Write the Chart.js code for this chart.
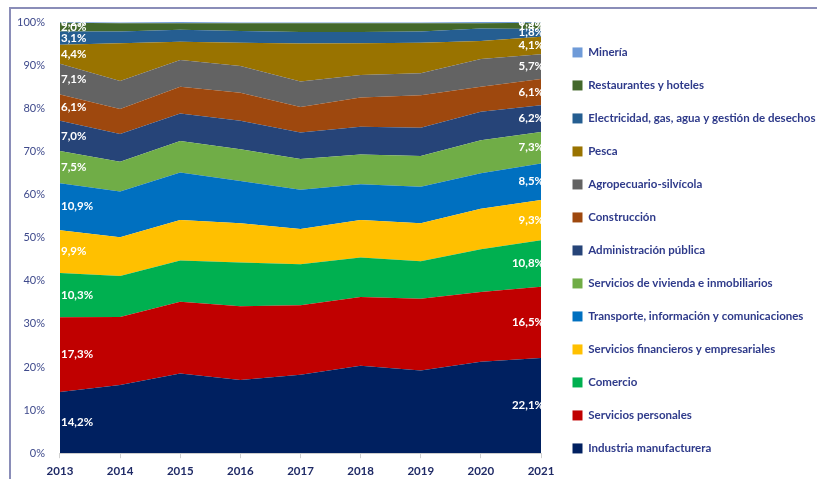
<!DOCTYPE html>
<html>
<head>
<meta charset="utf-8">
<script src="https://cdn.jsdelivr.net/npm/chart.js@4"></script>
<style>
  html, body { margin: 0; padding: 0; background: #fff; overflow: hidden; }
  #frame { position: absolute; left: 9px; top: 7px; width: 900px; height: 600px; border: 2px solid #8a8db8; }
  #wrap { position: absolute; left: 0; top: 0; width: 817px; height: 479px; }
</style>
</head>
<body>
<div id="frame"></div>
<div id="wrap"><canvas id="areachart"></canvas></div>
<script>
var years = ['2013', '2014', '2015', '2016', '2017', '2018', '2019', '2020', '2021'];

var industria      = [14.2, 15.8, 18.5, 17.0, 18.2, 20.3, 19.2, 21.2, 22.1];
var personales     = [17.3, 15.8, 16.6, 17.1, 16.1, 15.9, 16.6, 16.2, 16.5];
var comercio       = [10.3, 9.5, 9.6, 10.1, 9.5, 9.2, 8.7, 9.9, 10.8];
var financieros    = [9.9, 9.0, 9.4, 9.1, 8.2, 8.7, 8.8, 9.4, 9.3];
var transporte     = [10.9, 10.6, 11.0, 9.8, 9.1, 8.3, 8.5, 8.2, 8.5];
var vivienda       = [7.5, 6.9, 7.3, 7.4, 7.1, 6.9, 7.1, 7.7, 7.3];
var administracion = [7.0, 6.4, 6.4, 6.6, 6.2, 6.4, 6.6, 6.6, 6.2];
var construccion   = [6.1, 5.8, 6.2, 6.5, 5.9, 6.8, 7.5, 5.8, 6.1];
var agropecuario   = [7.1, 6.5, 6.2, 6.2, 5.9, 5.2, 5.1, 6.4, 5.7];
var pesca          = [4.4, 8.8, 4.2, 5.4, 8.8, 7.4, 7.1, 4.2, 4.1];
var electricidad   = [3.1, 2.7, 2.8, 2.7, 2.7, 2.6, 2.6, 2.9, 1.8];
var restaurantes   = [2.0, 1.9, 1.5, 1.8, 2.0, 2.0, 1.9, 1.2, 1.4];
var mineria        = [0.2, 0.2, 0.3, 0.2, 0.2, 0.2, 0.2, 0.3, 0.3];

var yTicks = [0, 10, 20, 30, 40, 50, 60, 70, 80, 90, 100];

// bottom of the stack first
var series = [
    ['Industria manufacturera', industria, '#002060'],
    ['Servicios personales', personales, '#c00000'],
    ['Comercio', comercio, '#00b050'],
    ['Servicios financieros y empresariales', financieros, '#ffc000'],
    ['Transporte, información y comunicaciones', transporte, '#0070c0'],
    ['Servicios de vivienda e inmobiliarios', vivienda, '#70ad47'],
    ['Administración pública', administracion, '#264478'],
    ['Construcción', construccion, '#9e480e'],
    ['Agropecuario-silvícola', agropecuario, '#636363'],
    ['Pesca', pesca, '#997300'],
    ['Electricidad, gas, agua y gestión de desechos', electricidad, '#255e91'],
    ['Restaurantes y hoteles', restaurantes, '#43682b'],
    ['Minería', mineria, '#6f9bd8']
];

var datasets = series.map(function (s, i) {
    return {
        label: s[0],
        data: s[1],
        backgroundColor: s[2],
        borderColor: s[2],
        borderWidth: 0,
        pointRadius: 0,
        tension: 0,
        fill: i === 0 ? 'origin' : '-1'
    };
});

function pct(v) {
    return v.toFixed(1).replace('.', ',') + '%';
}

// white value labels at the first and last year, centred in each band
var endLabels = {
    id: 'endLabels',
    afterDatasetsDraw: function (chart) {
        var ctx = chart.ctx;
        var xs = chart.scales.x, ys = chart.scales.y;
        var last = years.length - 1;
        ctx.save();
        ctx.font = 'bold 11.5px Lato';
        ctx.fillStyle = '#ffffff';
        ctx.textBaseline = 'middle';
        [0, last].forEach(function (idx) {
            var base = 0;
            series.forEach(function (s) {
                var v = s[1][idx];
                var y = ys.getPixelForValue(base + v / 2);
                base += v;
                if (idx === 0) {
                    ctx.textAlign = 'left';
                    ctx.fillText(pct(v), xs.getPixelForValue(0) + 1, y);
                } else {
                    ctx.textAlign = 'right';
                    ctx.fillText(pct(v), xs.getPixelForValue(last) + 3, y);
                }
            });
        });
        ctx.restore();
    }
};

var areactx = document.getElementById('areachart').getContext('2d');
var areachart = new Chart(areactx, {
    type: 'line',
    data: {
        labels: years,
        datasets: datasets
    },
    plugins: [endLabels],
    options: {
        responsive: true,
        maintainAspectRatio: false,
        animation: false,
        layout: {
            padding: { left: 10, top: 22, right: 0, bottom: -5 }
        },
        plugins: {
            tooltip: { enabled: false },
            legend: {
                position: 'right',
                align: 'start',
                reverse: true,
                maxWidth: 266,
                title: { display: true, text: '', padding: { top: 2, bottom: 0 }, font: { size: 1 } },
                labels: {
                    boxWidth: 10,
                    boxHeight: 10,
                    padding: 21.5,
                    color: '#2e3a8a',
                    font: { family: 'Lato', size: 11.5, weight: 'bold' }
                }
            }
        },
        scales: {
            x: {
                offset: false,
                grid: { display: true, drawOnChartArea: false, tickLength: 5, color: '#d0d0d0' },
                border: { display: true, color: '#d0d0d0' },
                ticks: {
                    padding: 6,
                    color: '#1f2a66',
                    font: { family: 'Lato', size: 11.5, weight: 'bold' }
                }
            },
            y: {
                stacked: true,
                min: 0,
                max: 100,
                grid: { display: false },
                border: { display: false },
                afterBuildTicks: function (axis) {
                    axis.ticks = yTicks.map(function (v) { return { value: v }; });
                },
                ticks: {
                    padding: 7,
                    color: '#3f4a8c',
                    font: { family: 'Lato', size: 11 },
                    callback: function (v) { return v + '%'; }
                }
            },
            // empty right-hand axis, only keeps a gap between plot and legend
            gap: {
                position: 'right',
                grid: { display: false },
                border: { display: false },
                ticks: { display: false },
                afterFit: function (axis) { axis.width = 10; }
            }
        }
    }
});
</script>
</body>
</html>
